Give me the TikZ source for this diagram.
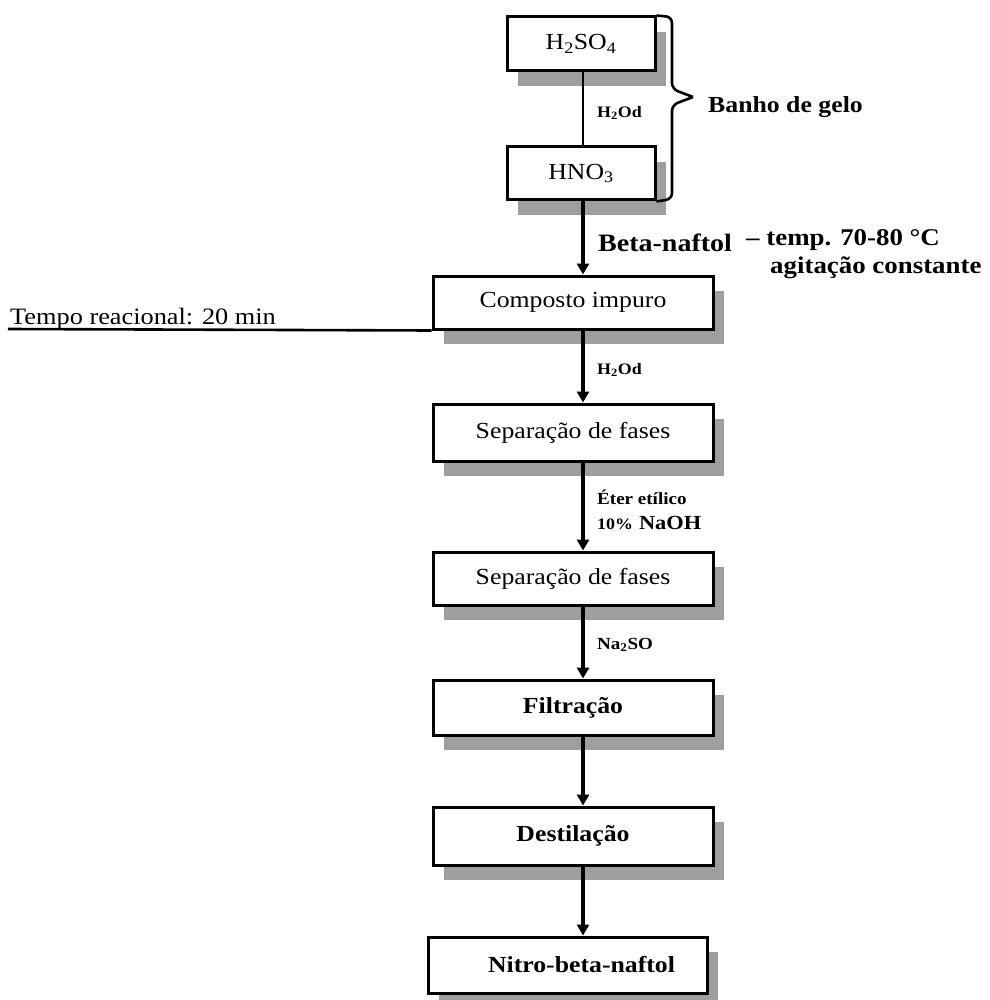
\documentclass[tikz,border=0pt]{standalone}
\usepackage{fontspec}
\setmainfont[FakeStretch=1.12]{Liberation Serif}
\usetikzlibrary{arrows.meta,shadows}
\begin{document}
\begin{tikzpicture}[x=1pt,y=-1pt,
  box/.style={draw,line width=3pt,fill=white,inner sep=0pt,
    drop shadow={shadow xshift=11pt,shadow yshift=-15pt,fill=black!38,opacity=1}},
  arr/.style={line width=3.6pt,-{Triangle[length=11pt,width=12pt]}},
  btxt/.style={font=\fontsize{23}{26}\selectfont},
  bbtxt/.style={font=\fontsize{23}{26}\selectfont\bfseries},
  lab/.style={anchor=west,inner sep=0pt,font=\fontsize{16}{18}\selectfont\bfseries},
  side/.style={anchor=west,inner sep=0pt,font=\fontsize{24}{27}\selectfont\bfseries}]
\useasboundingbox (0,0) rectangle (989,1000);
% boxes
\node[box,btxt,minimum width=148pt,minimum height=54pt] (h2so4) at (581,44) {H\textsubscript{2}SO\textsubscript{4}};
\node[box,btxt,minimum width=148pt,minimum height=53pt] (hno3) at (581,173.5) {HNO\textsubscript{3}};
\node[box,btxt,minimum width=280pt,minimum height=53pt] (comp) at (573,302.5) {Composto impuro};
\node[box,btxt,minimum width=280pt,minimum height=57pt] (sep1) at (573,432.5) {Separação de fases};
\node[box,btxt,minimum width=280pt,minimum height=53pt] (sep2) at (573,578.5) {Separação de fases};
\node[box,bbtxt,minimum width=280pt,minimum height=55pt] (filt) at (573,707.5) {Filtração};
\node[box,bbtxt,minimum width=280pt,minimum height=58pt] (dest) at (573,836) {Destilação};
\node[box,bbtxt,minimum width=279pt,minimum height=56pt] (nitro) at (567.5,965) {\hspace*{28pt}Nitro-beta-naftol};
% connectors
\coordinate (ax) at (583,0);
\draw[line width=2.6pt] (h2so4.south -| ax) -- (hno3.north -| ax);
\draw[arr] (hno3.south -| ax) -- (comp.north -| ax);
\draw[arr] (comp.south -| ax) -- (sep1.north -| ax);
\draw[arr] (sep1.south -| ax) -- (sep2.north -| ax);
\draw[arr] (sep2.south -| ax) -- (filt.north -| ax);
\draw[arr] (filt.south -| ax) -- (dest.north -| ax);
\draw[arr] (dest.south -| ax) -- (nitro.north -| ax);
% brace
\draw[line width=2.6pt,rounded corners=6pt] (h2so4.north east) -- (672,17) -- (672,89) -- (693,97);
\draw[line width=2.6pt,rounded corners=6pt] (693,97) -- (672,105) -- (672,199) -- (hno3.south east);
\node[side,font=\fontsize{23}{26}\selectfont\bfseries] (banho) at (708,107) {Banho de gelo};
% labels
\node[lab] (l1) at (597,113) {H\textsubscript{2}Od};
\node[lab] (l2) at (597,370) {H\textsubscript{2}Od};
\node[lab,font=\fontsize{17}{19}\selectfont\bfseries] (l3) at (597,497) {Éter etílico};
\node[lab] (l4) at (597,523) {\fontsize{16}{18}\selectfont 10\%\hspace{6pt}\fontsize{20}{22}\selectfont NaOH};
\node[lab,font=\fontsize{17}{19}\selectfont\bfseries] (l5) at (597,645) {Na\textsubscript{2}SO};
\node[side,font=\fontsize{25}{28}\selectfont\bfseries] (beta) at (598,243) {Beta-naftol};
\node[side] (temp) at (746,240) {– temp. 70-80 °C};
\node[side] (agit) at (770,268) {agitação constante};
% tempo reacional
\coordinate (tl) at (8,329);
\draw[line width=2.6pt] (tl) -- (comp.south west);
\node[anchor=base west,inner sep=0pt,font=\fontsize{23.5}{26}\selectfont] (tempo) at (10,324) {Tempo reacional: 20 min};
\end{tikzpicture}
\end{document}
